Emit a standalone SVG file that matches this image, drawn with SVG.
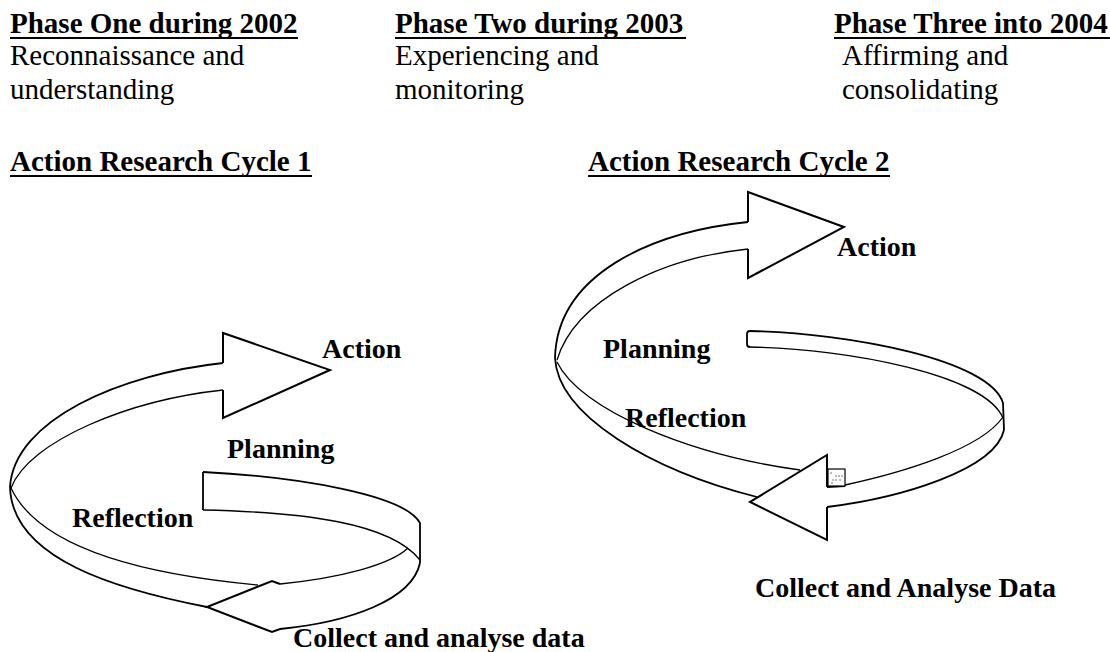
<svg xmlns="http://www.w3.org/2000/svg" width="1110" height="652" viewBox="0 0 1110 652">
  <style>
    .hd { font-family: "Liberation Serif", "Times New Roman", serif; font-weight: bold; font-size: 29px; fill: #000; }
    .sub { font-family: "Liberation Serif", "Times New Roman", serif; font-size: 29px; fill: #000; }
    .lbl { font-family: "Liberation Serif", "Times New Roman", serif; font-weight: bold; font-size: 28px; fill: #000; }
    .ul { stroke: #000; stroke-width: 2; }
    .edge { fill: none; stroke: #000; stroke-width: 1.8; stroke-linejoin: round; }
    .thin { fill: none; stroke: #000; stroke-width: 1.3; }
    .head { fill: #fff; stroke: #000; stroke-width: 2; stroke-linejoin: miter; }
  </style>
  <rect width="1110" height="652" fill="#fff"/>

  <!-- Phase headings -->
  <g id="phase-one">
    <text class="hd" x="10" y="33">Phase One during 2002</text>
    <line class="ul" x1="10" y1="38" x2="298" y2="38"/>
    <text class="sub" x="10" y="65">Reconnaissance and</text>
    <text class="sub" x="10" y="99">understanding</text>
  </g>
  <g id="phase-two">
    <text class="hd" x="395" y="33">Phase Two during 2003</text>
    <line class="ul" x1="395" y1="38" x2="686" y2="38"/>
    <text class="sub" x="395" y="65">Experiencing and</text>
    <text class="sub" x="395" y="99">monitoring</text>
  </g>
  <g id="phase-three">
    <text class="hd" x="834" y="33">Phase Three into 2004</text>
    <line class="ul" x1="834" y1="38" x2="1110" y2="38"/>
    <text class="sub" x="842" y="65">Affirming and</text>
    <text class="sub" x="842" y="99">consolidating</text>
  </g>

  <!-- Cycle titles -->
  <g id="cycle1-title">
    <text class="hd" x="10" y="171">Action Research Cycle 1</text>
    <line class="ul" x1="10" y1="176" x2="312" y2="176"/>
  </g>
  <g id="cycle2-title">
    <text class="hd" x="588" y="171">Action Research Cycle 2</text>
    <line class="ul" x1="588" y1="176" x2="890" y2="176"/>
  </g>

  <g id="connectors">
    <!-- Cycle 1 ribbon -->
    <g id="cycle1-ribbon">
      <!-- planning band, flat start, sweeping right and down -->
      <path class="edge" d="M203,472 L203,510"/>
      <path class="edge" d="M203,472 C300,477 405,495 420,523 L420,563"/>
      <path class="thin" d="M203,510 C300,512 390,522 420,560"/>
      <!-- lower band returning left -->
      <path class="thin" d="M280,584 C340,578 390,565 408,548"/>
      <path class="edge" d="M280,629 C350,622 412,600 420,563"/>
      <!-- left turn of the ribbon -->
      <path class="edge" d="M10,487 C12,560 120,590 207,607"/>
      <path class="thin" d="M11,488 C40,550 150,575 258,585"/>
      <path class="edge" d="M223,363 C120,374 14,420 10,487"/>
      <path class="thin" d="M223,390 C130,400 30,440 11,488"/>
      <!-- arrowheads -->
      <path class="head" d="M223,363 L223,333 L330,370 L223,418 L223,390"/>
      <path class="head" d="M280,584 L272,581 L207,607 L272,632 L280,629"/>
    </g>

    <!-- Cycle 2 ribbon -->
    <g id="cycle2-ribbon">
      <path class="edge" d="M750,331 Q747,331 747,334 L747,344 Q747,347 750,347"/>
      <path class="edge" d="M750,331 C850,333 990,360 1003,403 L1004,430"/>
      <path class="thin" d="M750,347 C850,349 985,375 1003,418"/>
      <path class="thin" d="M845,485 C900,473 980,450 1003,417"/>
      <path class="edge" d="M827,507 C900,498 995,470 1004,430"/>
      <path class="edge" d="M555,358 C558,415 650,470 757,497"/>
      <path class="thin" d="M557,362 C580,410 690,455 800,470"/>
      <path class="edge" d="M748,222 C650,232 557,275 555,358"/>
      <path class="thin" d="M748,249 C660,258 575,300 557,360"/>
      <path class="head" d="M748,222 L748,192 L844,227 L748,278 L748,249"/>
      <path class="head" d="M827,487 L827,455 L750,502 L827,540 L827,507"/>
      <path class="edge" d="M827,487 L845,486"/>
      <rect x="828" y="469" width="17" height="17" fill="#fff" stroke="#000" stroke-width="1.2"/>
      <g fill="#666">
        <circle cx="831" cy="473" r="0.8"/><circle cx="836" cy="476" r="0.8"/><circle cx="839" cy="476" r="0.8"/>
        <circle cx="842" cy="476" r="0.8"/><circle cx="833" cy="480" r="0.8"/><circle cx="836" cy="480" r="0.8"/>
        <circle cx="840" cy="480" r="0.8"/><circle cx="832" cy="483" r="0.8"/>
      </g>
    </g>
  </g>

  <!-- Cycle 1 labels -->
  <g id="c1-action"><text class="lbl" x="322" y="358">Action</text></g>
  <g id="c1-planning"><text class="lbl" x="227" y="458">Planning</text></g>
  <g id="c1-reflection"><text class="lbl" x="72" y="527">Reflection</text></g>
  <g id="c1-collect"><text class="lbl" x="293" y="647">Collect and analyse data</text></g>

  <!-- Cycle 2 labels -->
  <g id="c2-action"><text class="lbl" x="837" y="256">Action</text></g>
  <g id="c2-planning"><text class="lbl" x="603" y="358">Planning</text></g>
  <g id="c2-reflection"><text class="lbl" x="625" y="427">Reflection</text></g>
  <g id="c2-collect"><text class="lbl" x="755" y="597">Collect and Analyse Data</text></g>
</svg>
